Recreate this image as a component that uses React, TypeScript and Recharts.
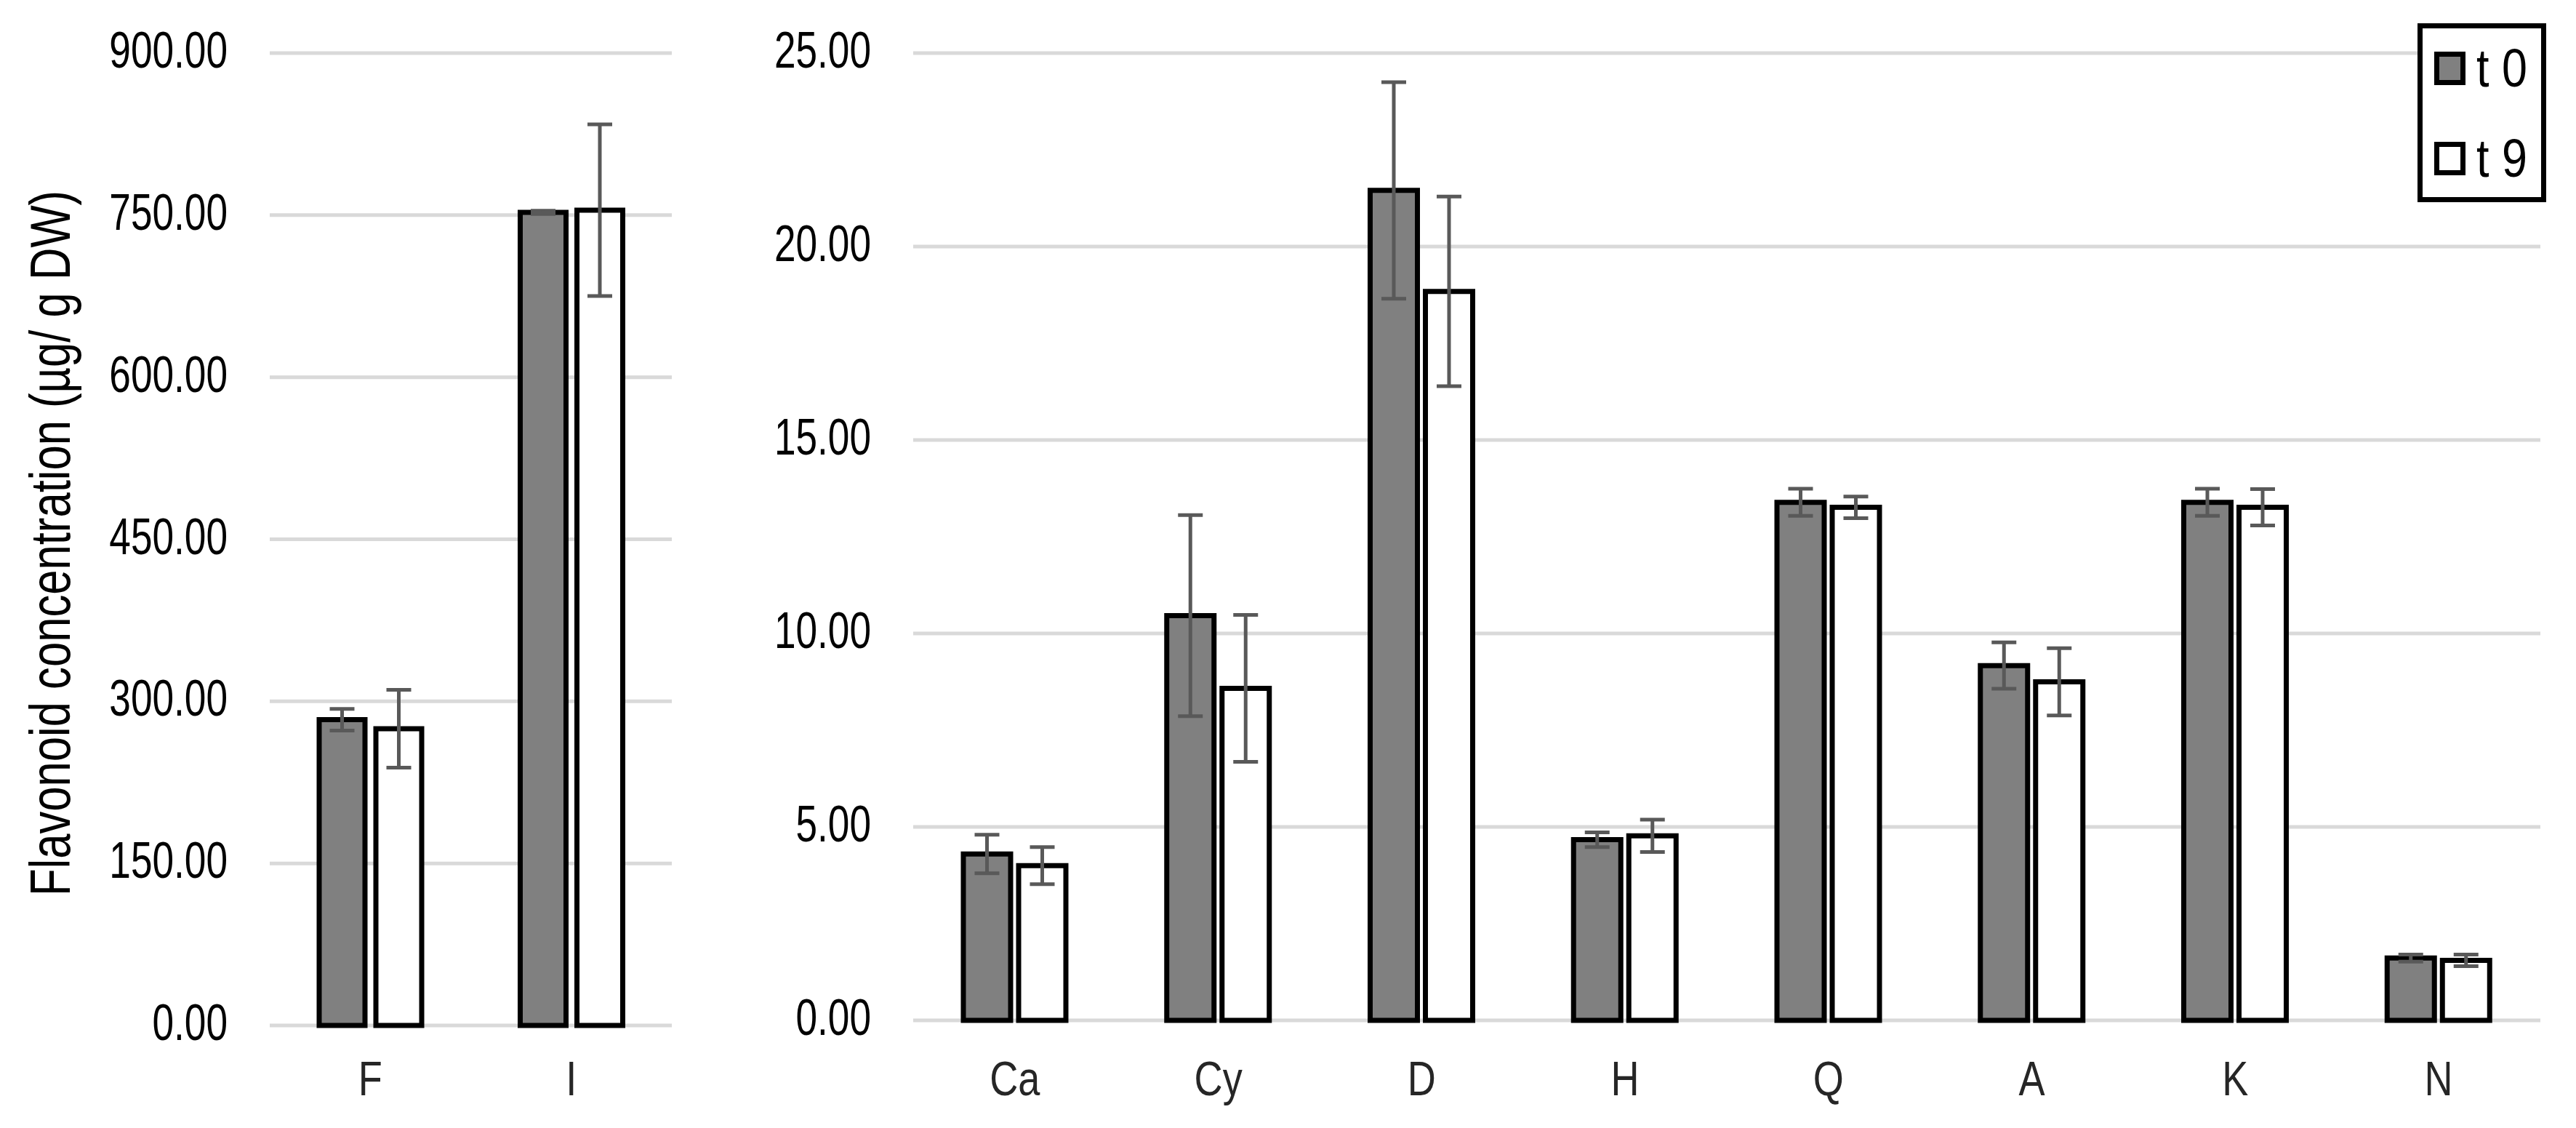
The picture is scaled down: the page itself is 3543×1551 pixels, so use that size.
import React from "react"
import { BarChart, Bar, XAxis, YAxis, CartesianGrid, ErrorBar, Legend } from "recharts"

// left panel (major flavonoids, µg/g DW)
const leftCategories = ["F", "I"]
const leftT0 = [283, 752.6]
const leftT0Err = [10, 1.5]
const leftT9 = [274.6, 754.6]
const leftT9Err = [36, 79.5]
const leftTicks = [0, 150, 300, 450, 600, 750, 900]

// right panel (minor flavonoids)
const rightCategories = ["Ca", "Cy", "D", "H", "Q", "A", "K", "N"]
const rightT0 = [4.3, 10.46, 21.45, 4.67, 13.39, 9.17, 13.39, 1.61]
const rightT0Err = [0.5, 2.6, 2.8, 0.19, 0.35, 0.6, 0.35, 0.09]
const rightT9 = [4.0, 8.58, 18.84, 4.77, 13.26, 8.75, 13.26, 1.55]
const rightT9Err = [0.48, 1.9, 2.45, 0.42, 0.28, 0.87, 0.47, 0.15]
const rightTicks = [0, 5, 10, 15, 20, 25]

const seriesNames = ["t 0", "t 9"]

// no narrow font installed, so Liberation Sans squeezed horizontally
const FONT = "'Liberation Sans', Arial, sans-serif"

const leftData = leftCategories.map((name, i) => ({
  name,
  t0: leftT0[i],
  t0err: leftT0Err[i],
  t9: leftT9[i],
  t9err: leftT9Err[i],
}))

const rightData = rightCategories.map((name, i) => ({
  name,
  t0: rightT0[i],
  t0err: rightT0Err[i],
  t9: rightT9[i],
  t9err: rightT9Err[i],
}))

const errStyle = { stroke: "#595959", strokeWidth: 5, width: 17 }

function YTick({ x, y, payload }: any) {
  return (
    <g transform={`translate(${x},${y})`}>
      <text transform="scale(0.76,1)" textAnchor="end" dy={20} fontSize={70} fontFamily={FONT} fill="#000">
        {Number(payload.value).toFixed(2)}
      </text>
    </g>
  )
}

function XTick({ x, y, payload }: any) {
  return (
    <g transform={`translate(${x},${y})`}>
      <text transform="scale(0.82,1)" textAnchor="middle" dy={47} fontSize={66} fontFamily={FONT} fill="#262626">
        {payload.value}
      </text>
    </g>
  )
}

function LegendBox(props: any) {
  const payload = props.payload || []
  return (
    <div
      style={{
        width: 177,
        height: 246,
        boxSizing: "border-box",
        border: "7px solid #000",
        background: "#fff",
        paddingTop: 32,
        paddingLeft: 16,
        display: "flex",
        flexDirection: "column",
        gap: 78,
        fontFamily: FONT,
      }}
    >
      {payload.map((entry: any) => (
        <div key={entry.value} style={{ display: "flex", alignItems: "center", height: 46, whiteSpace: "nowrap" }}>
          <span
            style={{
              display: "inline-block",
              flex: "none",
              width: 43,
              height: 46,
              boxSizing: "border-box",
              border: "7px solid #000",
              background: entry.color,
            }}
          />
          <span
            style={{
              display: "inline-block",
              fontSize: 74,
              lineHeight: "46px",
              marginLeft: 15,
              color: "#000",
              transform: "scaleX(0.85)",
              transformOrigin: "left center",
            }}
          >
            {entry.value}
          </span>
        </div>
      ))}
    </div>
  )
}

export default function App() {
  return (
    <div style={{ position: "absolute", left: 0, top: 0, width: 3543, height: 1551, background: "#fff", overflow: "hidden" }}>
      <div
        style={{
          position: "absolute",
          left: 69,
          top: 747,
          transform: "translate(-50%, -50%) rotate(-90deg) scaleX(0.8)",
          whiteSpace: "nowrap",
          fontFamily: FONT,
          fontSize: 77,
          lineHeight: 1,
          color: "#000",
        }}
      >
        Flavonoid concentration (µg/ g DW)
      </div>

      <div style={{ position: "absolute", left: 0, top: 0 }}>
        <BarChart width={930} height={1551} data={leftData} margin={{ top: 73, right: 6, bottom: 61, left: 0 }} barSize={63} barGap={15}>
          <CartesianGrid vertical={false} stroke="#d9d9d9" strokeWidth={5} />
          <XAxis dataKey="name" axisLine={false} tickLine={false} tickSize={0} tickMargin={49} height={80} tick={<XTick />} />
          <YAxis
            domain={[0, 900]}
            ticks={leftTicks}
            width={371}
            axisLine={false}
            tickLine={false}
            tickSize={0}
            tickMargin={58}
            tick={<YTick />}
          />
          <Bar dataKey="t0" name={seriesNames[0]} fill="#808080" stroke="#000" strokeWidth={7} isAnimationActive={false}>
            <ErrorBar dataKey="t0err" {...errStyle} isAnimationActive={false} />
          </Bar>
          <Bar dataKey="t9" name={seriesNames[1]} fill="#fff" stroke="#000" strokeWidth={7} isAnimationActive={false}>
            <ErrorBar dataKey="t9err" {...errStyle} isAnimationActive={false} />
          </Bar>
        </BarChart>
      </div>

      <div style={{ position: "absolute", left: 930, top: 0 }}>
        <BarChart width={2613} height={1551} data={rightData} margin={{ top: 73, right: 49, bottom: 68, left: 0 }} barSize={65} barGap={11}>
          <CartesianGrid vertical={false} stroke="#d9d9d9" strokeWidth={5} />
          <XAxis dataKey="name" axisLine={false} tickLine={false} tickSize={0} tickMargin={56} height={80} tick={<XTick />} />
          <YAxis
            domain={[0, 25]}
            ticks={rightTicks}
            width={326}
            axisLine={false}
            tickLine={false}
            tickSize={0}
            tickMargin={58}
            tick={<YTick />}
          />
          <Legend
            layout="horizontal"
            align="center"
            verticalAlign="middle"
            content={LegendBox}
            wrapperStyle={{ left: 3325 - 930, top: 32, width: 177, height: 246 }}
          />
          <Bar dataKey="t0" name={seriesNames[0]} fill="#808080" stroke="#000" strokeWidth={7} isAnimationActive={false}>
            <ErrorBar dataKey="t0err" {...errStyle} isAnimationActive={false} />
          </Bar>
          <Bar dataKey="t9" name={seriesNames[1]} fill="#fff" stroke="#000" strokeWidth={7} isAnimationActive={false}>
            <ErrorBar dataKey="t9err" {...errStyle} isAnimationActive={false} />
          </Bar>
        </BarChart>
      </div>
    </div>
  )
}
